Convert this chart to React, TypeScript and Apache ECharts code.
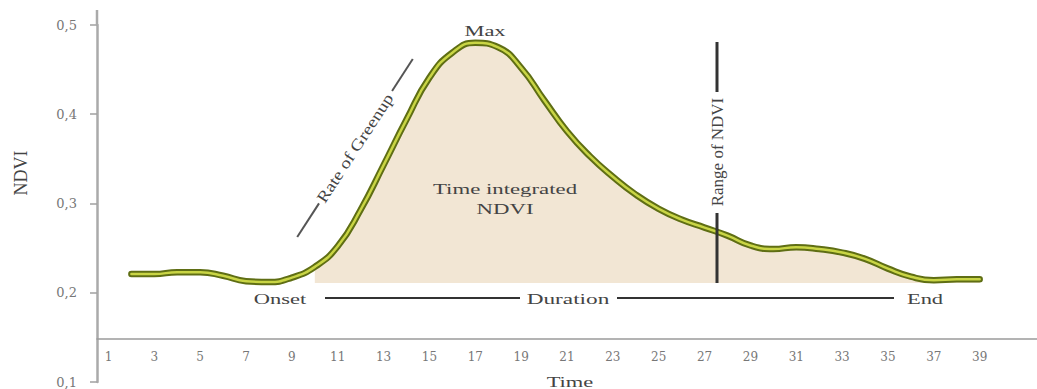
import React, { useEffect, useRef } from 'react';
import * as echarts from 'echarts';

// Time steps shown on the x axis (category axis)
const categories = ['1','2','3','4','5','6','7','8','9','10','11','12','13','14','15','16','17','18','19','20','21','22','23','24','25','26','27','28','29','30','31','32','33','34','35','36','37','38','39','40','41'];

const ndvi = [null, 0.221, 0.221, 0.223, 0.223, 0.219, 0.213, 0.212, 0.217, 0.229, 0.252, 0.293, 0.343, 0.394, 0.441, 0.469, 0.480, 0.475, 0.452, 0.416, 0.381, 0.353, 0.330, 0.310, 0.294, 0.282, 0.273, 0.264, 0.253, 0.249, 0.251, 0.249, 0.245, 0.238, 0.227, 0.218, 0.214, 0.215, 0.215, null, null];

// Season: onset / end categories and the base NDVI of the integrated area
const onsetCategory = '10';
const endCategory = '39';
const baseNdvi = 0.211;

// y tick values and their labels (comma decimals)
const yTickValues = [0.1, 0.2, 0.3, 0.4, 0.5];
const yTickLabels = ['0,1', '0,2', '0,3', '0,4', '0,5'];

const SERIF = "'Liberation Serif', 'Times New Roman', serif";
const TXT = '#444';

function txt(text: string, x: number, y: number, size: number, scaleX = 1.55, extra: any = {}) {
  return {
    type: 'text', x, y, scaleX, silent: true, z: 20,
    style: {
      text, x: 0, y: 0, font: `${size}px ${SERIF}`, fill: TXT,
      textAlign: 'center', textVerticalAlign: 'middle', align: 'center', verticalAlign: 'middle',
    },
    ...extra,
  };
}

function ln(x1: number, y1: number, x2: number, y2: number, w = 2, c = '#333') {
  return { type: 'line', silent: true, z: 20, shape: { x1, y1, x2, y2 }, style: { stroke: c, lineWidth: w } };
}

export default function App() {
  const ref = useRef<HTMLDivElement>(null);
  useEffect(() => {
    const chart = echarts.init(ref.current!, null, { renderer: 'svg' });
    const iStart = categories.indexOf(onsetCategory);
    const iEnd = categories.indexOf(endCategory);
    const fillData = ndvi.map((v, i) => (i >= iStart && i <= iEnd ? v : null));
    const deg = Math.PI / 180;

    chart.setOption({
      animation: false,
      backgroundColor: '#fff',
      grid: { left: 97, top: 25, right: -13, bottom: 7, containLabel: false },
      xAxis: {
        type: 'category',
        data: categories,
        boundaryGap: true,
        offset: -43,
        axisLine: { onZero: false, lineStyle: { color: '#9a9a9a', width: 1.5 } },
        axisTick: { interval: 0, length: 4, lineStyle: { color: '#9a9a9a', width: 1.2 } },
        axisLabel: {
          interval: (idx: number) => idx % 2 === 0 && idx < 39,
          color: '#777',
          fontFamily: 'DejaVu Serif',
          fontSize: 12,
          margin: 12,
        },
        splitLine: { show: false },
      },
      yAxis: {
        type: 'value',
        min: 0.1,
        max: 0.5,
        interval: 0.1,
        axisLine: { show: true, lineStyle: { color: '#aaaaaa', width: 2.5 } },
        axisTick: { show: true, length: 7, lineStyle: { color: '#a0a0a0', width: 1.5 } },
        axisLabel: {
          margin: 20,
          color: '#777',
          fontFamily: 'DejaVu Serif',
          fontSize: 13,
          formatter: (v: number) => {
            const k = yTickValues.findIndex((t) => Math.abs(t - v) < 1e-6);
            return k >= 0 ? yTickLabels[k] : '';
          },
        },
        splitLine: { show: false },
      },
      series: [
        {
          name: 'Time integrated NDVI',
          type: 'line',
          data: fillData,
          smooth: 0.5,
          symbol: 'none',
          silent: true,
          lineStyle: { width: 0 },
          areaStyle: { color: '#f2e6d4', opacity: 1, origin: baseNdvi },
          z: 1,
        },
        {
          name: 'NDVI edge',
          type: 'line',
          data: ndvi,
          smooth: 0.5,
          symbol: 'none',
          silent: true,
          lineStyle: { color: '#5f6e14', width: 6.5, cap: 'round', join: 'round' },
          z: 2,
        },
        {
          name: 'NDVI',
          type: 'line',
          data: ndvi,
          smooth: 0.5,
          symbol: 'none',
          silent: true,
          lineStyle: { color: '#c9d545', width: 2.5, cap: 'round', join: 'round' },
          z: 3,
        },
      ],
      graphic: [
        // top extension of y axis
        ln(97, 10, 97, 25, 2.5, '#aaaaaa'),
        // axis names
        txt('NDVI', 21, 173, 18, 1, { rotation: 90 * deg }),
        txt('Time', 570, 382, 15, 1.5),
        // Max
        txt('Max', 485, 31, 15, 1.5),
        // Time integrated NDVI
        txt('Time integrated', 505, 189, 15, 1.52),
        txt('NDVI', 505, 209, 15, 1.52),
        // Onset / Duration / End
        txt('Onset', 280, 299, 15, 1.5),
        ln(325, 298, 520, 298, 2, '#333'),
        txt('Duration', 568, 299, 15, 1.55),
        ln(617, 298, 894, 298, 2, '#333'),
        txt('End', 925, 299, 15, 1.5),
        // Range of NDVI
        ln(717, 42, 717, 92, 3, '#333'),
        txt('Range of NDVI', 717, 152, 17, 1, { rotation: 90 * deg }),
        ln(717, 213, 717, 283, 3, '#333'),
        // Rate of Greenup
        {
          type: 'group',
          x: 355,
          y: 148,
          rotation: 57 * deg,
          children: [
            ln(-106, 0, -66, 0, 2, '#555'),
            txt('Rate of Greenup', 0, 0, 16, 1.2),
            ln(68, 0, 106, 0, 2, '#555'),
          ],
        },
      ],
    });
    return () => chart.dispose();
  }, []);
  return (
    <div
      ref={ref}
      style={{ position: 'absolute', left: 0, top: 0, width: 1037, height: 389, background: '#fff' }}
    />
  );
}
